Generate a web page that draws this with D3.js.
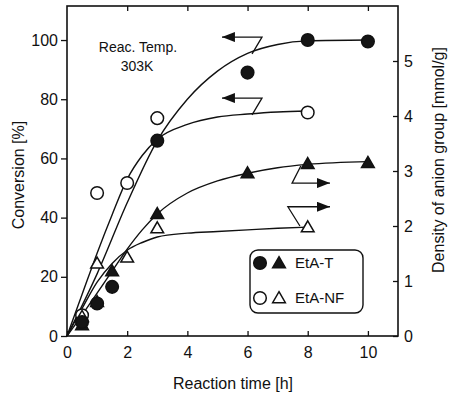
<!DOCTYPE html>
<html>
<head>
<meta charset="utf-8">
<script src="https://cdn.jsdelivr.net/npm/d3@7"></script>
<style>
  body { margin: 0; background: #fff; }
  svg { display: block; }
  text { font-family: "Liberation Sans", Arial, Helvetica, sans-serif; fill: #111; }
</style>
</head>
<body>
<svg id="chart" width="449" height="396"></svg>
<script>
// measured points
const timeT   = [0.5, 1, 1.5, 3, 6, 8, 10];
const convT   = [4.7, 11, 16.6, 66, 89, 100, 99.5];
const densT   = [0.2, 0.62, 1.18, 2.22, 2.96, 3.13, 3.15];
const timeNF  = [0.5, 1, 2, 3, 8];
const convNF  = [7, 48.3, 51.7, 73.6, 75.5];
const densNF  = [0.35, 1.32, 1.43, 1.96, 1.98];

// fitted lines as drawn in the figure
const fitTimeConvT  = [0, 1, 2, 3, 4, 5, 6, 7, 8, 10];
const fitConvT      = [0, 21, 45, 66, 80, 89.5, 95.5, 98.5, 99.7, 100];
const fitTimeConvNF = [0, 0.5, 1, 1.5, 2, 2.5, 3, 4, 5, 6, 7, 8];
const fitConvNF     = [0, 14, 28, 41, 53, 61, 66.5, 71.5, 74, 75, 75.7, 76];
const fitTimeDensT  = [0, 0.5, 1, 1.5, 2, 2.5, 3, 4, 5, 6, 7, 8, 10];
const fitDensT      = [0, 0.38, 0.78, 1.18, 1.58, 1.93, 2.22, 2.6, 2.82, 2.96, 3.06, 3.12, 3.17];
const fitTimeDensNF = [0, 0.5, 1, 1.5, 2, 2.5, 3, 4, 5, 6, 7, 8];
const fitDensNF     = [0, 0.5, 0.98, 1.32, 1.56, 1.7, 1.8, 1.87, 1.9, 1.93, 1.96, 1.98];

const xTicks = [0, 2, 4, 6, 8, 10];
const convTicks = [0, 20, 40, 60, 80, 100];
const densTicks = [0, 1, 2, 3, 4, 5];

let svg = d3.select('#chart'),
    x = d3.scaleLinear().domain([0, 11]).range([67, 398]),
    yL = d3.scaleLinear().domain([0, 111.5]).range([336, 6]),
    yR = d3.scaleLinear().domain([0, 6]).range([336, 6]);

// arrowhead
svg.append('defs').append('marker')
    .attr('id', 'head')
    .attr('markerUnits', 'userSpaceOnUse')
    .attr('markerWidth', 14).attr('markerHeight', 10)
    .attr('refX', 13).attr('refY', 5)
    .attr('orient', 'auto')
  .append('path')
    .attr('d', 'M0,0 L13,5 L0,10 Z')
    .attr('fill', '#111');

// axes
function styleAxis(g){
    g.select('.domain').remove();
    g.selectAll('line').attr('stroke', '#111').attr('stroke-width', 1.3);
    g.selectAll('text').attr('font-size', 16).attr('fill', '#111')
        .attr('font-family', '"Liberation Sans", Arial, sans-serif');
}
svg.append('g').attr('transform', 'translate(67,0)')
    .call(d3.axisLeft(yL).tickValues(convTicks).tickSize(6).tickPadding(3))
    .call(styleAxis);
svg.append('g').attr('transform', 'translate(398,0)')
    .call(d3.axisRight(yR).tickValues(densTicks).tickFormat(d3.format('d')).tickSize(-5).tickPadding(6))
    .call(styleAxis);
svg.append('g').attr('transform', 'translate(0,336)')
    .call(d3.axisBottom(x).tickValues(xTicks).tickSize(-5).tickPadding(11))
    .call(styleAxis);
svg.append('g').attr('transform', 'translate(0,6)')
    .call(d3.axisTop(x).tickValues(xTicks.slice(1)).tickSize(-5).tickFormat(''))
    .call(styleAxis);

svg.append('rect')
    .attr('x', 67).attr('y', 6).attr('width', 331).attr('height', 330)
    .attr('fill', 'none').attr('stroke', '#111').attr('stroke-width', 1.6);

// axis titles
svg.append('text').attr('x', 233).attr('y', 389).attr('text-anchor', 'middle')
    .attr('font-size', 16).text('Reaction time [h]');
svg.append('text').attr('transform', 'translate(24,175) rotate(-90)')
    .attr('text-anchor', 'middle').attr('font-size', 16).text('Conversion [%]');
svg.append('text').attr('transform', 'translate(444,160) rotate(-90)')
    .attr('text-anchor', 'middle').attr('font-size', 16).text('Density of anion group [mmol/g]');

svg.append('text').attr('x', 138).attr('y', 52).attr('text-anchor', 'middle')
    .attr('font-size', 14).text('Reac. Temp.');
svg.append('text').attr('x', 137).attr('y', 71).attr('text-anchor', 'middle')
    .attr('font-size', 14).text('303K');

// fitted curves
let fits = [
    {t: fitTimeConvT, v: fitConvT, y: yL},
    {t: fitTimeConvNF, v: fitConvNF, y: yL},
    {t: fitTimeDensT, v: fitDensT, y: yR},
    {t: fitTimeDensNF, v: fitDensNF, y: yR}
];
fits.forEach(f => {
    let line = d3.line().x(d => x(d[0])).y(d => f.y(d[1])).curve(d3.curveMonotoneX);
    svg.append('path')
        .attr('d', line(f.t.map((t, i) => [t, f.v[i]])))
        .attr('fill', 'none').attr('stroke', '#111').attr('stroke-width', 1.4);
});

// arrows pointing to the axis each curve belongs to
let arrows = [
    {y: yL, pts: [[6.15, 95.3], [6.48, 101], [5.15, 101]]},
    {y: yL, pts: [[6.15, 74.7], [6.48, 80.4], [5.15, 80.4]]},
    {y: yR, pts: [[7.77, 3.09], [7.48, 2.78], [8.74, 2.78]]},
    {y: yR, pts: [[7.74, 2.0], [7.34, 2.35], [8.74, 2.35]]}
];
arrows.forEach(a => {
    svg.append('path')
        .attr('d', d3.line().x(d => x(d[0])).y(d => a.y(d[1]))(a.pts))
        .attr('fill', 'none').attr('stroke', '#111').attr('stroke-width', 1.3)
        .attr('marker-end', 'url(#head)');
});

// markers
const tri = d3.symbol().type(d3.symbolTriangle).size(70);
function circles(ts, vs, filled){
    svg.append('g').selectAll('circle').data(ts).join('circle')
        .attr('cx', d => x(d)).attr('cy', (d, i) => yL(vs[i])).attr('r', 6.3)
        .attr('fill', filled ? '#151515' : '#fff')
        .attr('stroke', '#111').attr('stroke-width', 1.5);
}
function triangles(ts, vs, filled){
    svg.append('g').selectAll('path').data(ts).join('path')
        .attr('d', tri)
        .attr('transform', (d, i) => `translate(${x(d)},${yR(vs[i]) + 1})`)
        .attr('fill', filled ? '#151515' : '#fff')
        .attr('stroke', '#111').attr('stroke-width', 1.5);
}
circles(timeNF, convNF, false);
triangles(timeNF, densNF, false);
triangles(timeT, densT, true);
circles(timeT, convT, true);

// legend
let leg = svg.append('g');
leg.append('rect').attr('x', 250).attr('y', 250).attr('width', 113).attr('height', 63)
    .attr('rx', 8).attr('fill', '#fff').attr('stroke', '#111').attr('stroke-width', 1.4);
[[263, true, 'EtA-T'], [298, false, 'EtA-NF']].forEach(r => {
    leg.append('circle').attr('cx', 260).attr('cy', r[0]).attr('r', 6.3)
        .attr('fill', r[1] ? '#151515' : '#fff').attr('stroke', '#111').attr('stroke-width', 1.5);
    leg.append('path').attr('d', tri).attr('transform', `translate(279,${r[0] + 1})`)
        .attr('fill', r[1] ? '#151515' : '#fff').attr('stroke', '#111').attr('stroke-width', 1.5);
    leg.append('text').attr('x', 295).attr('y', r[0] + 5).attr('font-size', 15).text(r[2]);
});
</script>
</body>
</html>
